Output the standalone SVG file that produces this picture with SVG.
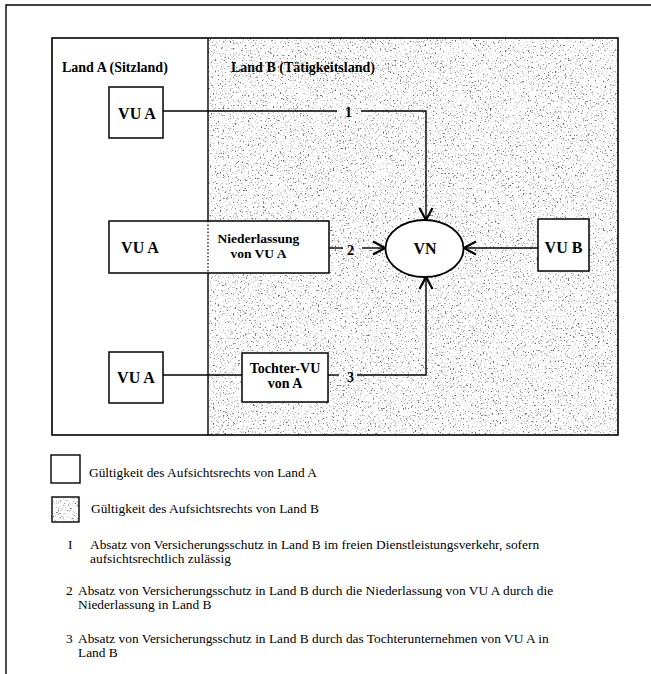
<svg xmlns="http://www.w3.org/2000/svg" width="651" height="674" viewBox="0 0 651 674">
<style>
.ln{fill:none;stroke:#000;stroke-width:1.4}
.box{fill:#fff;stroke:#000;stroke-width:1.5}
.bt{font-family:"Liberation Serif","Times New Roman",serif;font-weight:bold;fill:#000}
.t{font-family:"Liberation Serif","Times New Roman",serif;font-size:13.4px;fill:#000}
</style>
<defs>
<filter id="speckle" x="0" y="0" width="1" height="1">
<feTurbulence type="fractalNoise" baseFrequency="0.6" numOctaves="3" seed="7" result="n"/>
<feColorMatrix in="n" type="matrix" values="0 0 0 0 0.15  0 0 0 0 0.15  0 0 0 0 0.15  5 0 0 0 -2.85" result="d"/>
<feFlood flood-color="#fff" result="w"/>
<feComposite in="d" in2="w" operator="over"/>
</filter>
<marker id="arr" markerUnits="userSpaceOnUse" markerWidth="16" markerHeight="16" viewBox="0 0 16 16" refX="14" refY="8" orient="auto">
<path d="M2,1.5 L14,8 L2,14.5" fill="none" stroke="#000" stroke-width="2.2"/>
</marker>
</defs>
<rect width="651" height="674" fill="#fff"/>
<path d="M6,674 V5 H651" class="ln" stroke-width="1.5"/>

<g id="land-b">
<rect x="208" y="38" width="410" height="397" fill="#fff" filter="url(#speckle)"/>
</g>
<g id="frame">
<rect x="52" y="38" width="566" height="397" fill="none" stroke="#000" stroke-width="1.6"/>
<line x1="208" y1="38" x2="208" y2="221" stroke="#000" stroke-width="1.4"/>
<line x1="208" y1="273" x2="208" y2="435" stroke="#000" stroke-width="1.4"/>
<text class="bt" x="62" y="72" font-size="14">Land A (Sitzland)</text>
<text class="bt" x="231" y="72" font-size="14">Land B (Tätigkeitsland)</text>
</g>

<g id="connectors">
<polyline class="ln" points="163,111 337,111"/>
<polyline class="ln" points="361,111 426,111 426,220" marker-end="url(#arr)"/>
<text class="bt" x="345" y="117" font-size="14">1</text>
<polyline class="ln" points="329,248 343,248"/>
<polyline class="ln" points="362,248 385,248" marker-end="url(#arr)"/>
<text class="bt" x="347" y="255" font-size="14">2</text>
<polyline class="ln" points="163,375 242,375"/>
<polyline class="ln" points="328,375 339,375"/>
<polyline class="ln" points="357,375 426,375 426,277" marker-end="url(#arr)"/>
<text class="bt" x="347" y="382" font-size="14">3</text>
<polyline class="ln" points="538,248 464,248" marker-end="url(#arr)"/>
</g>

<g id="vua1">
<rect class="box" x="109" y="87" width="54" height="51"/>
<text class="bt" x="137" y="119" font-size="16" text-anchor="middle">VU A</text>
</g>

<g id="niederlassung">
<rect class="box" x="109" y="221" width="220" height="52"/>
<line x1="208" y1="221" x2="208" y2="273" stroke="#000" stroke-width="1.2" stroke-dasharray="1.5,2"/>
<text class="bt" x="140" y="253" font-size="16" text-anchor="middle">VU A</text>
<text class="bt" x="258.5" y="243" font-size="13.5" text-anchor="middle">Niederlassung</text>
<text class="bt" x="258.5" y="257.5" font-size="13.5" text-anchor="middle">von VU A</text>
</g>

<g id="vn">
<ellipse cx="424.5" cy="248.5" rx="39" ry="28.5" fill="#fff" stroke="#000" stroke-width="1.8"/>
<text class="bt" x="425" y="254" font-size="16" text-anchor="middle">VN</text>
</g>

<g id="vub">
<rect class="box" x="538" y="219" width="51" height="52"/>
<text class="bt" x="563.5" y="253" font-size="16" text-anchor="middle">VU B</text>
</g>

<g id="vua3">
<rect class="box" x="109" y="352" width="54" height="51"/>
<text class="bt" x="136" y="383" font-size="16" text-anchor="middle">VU A</text>
</g>

<g id="tochter">
<rect class="box" x="242" y="353" width="86" height="49"/>
<text class="bt" x="285" y="373" font-size="14" text-anchor="middle">Tochter-VU</text>
<text class="bt" x="285" y="388" font-size="14" text-anchor="middle">von A</text>
</g>

<g id="legend">
<rect x="51" y="455" width="29" height="28" fill="#fff" stroke="#000" stroke-width="1.4"/>
<text class="t" x="89" y="477">Gültigkeit des Aufsichtsrechts von Land A</text>
<rect x="52" y="497" width="27" height="25" fill="#fff" filter="url(#speckle)"/>
<rect x="52" y="497" width="27" height="25" fill="none" stroke="#000" stroke-width="1.4"/>
<text class="t" x="91" y="513">Gültigkeit des Aufsichtsrechts von Land B</text>
<text class="t" x="68" y="549">I</text>
<text class="t" x="90" y="549">Absatz von Versicherungsschutz in Land B im freien Dienstleistungsverkehr, sofern</text>
<text class="t" x="90" y="563">aufsichtsrechtlich zulässig</text>
<text class="t" x="66" y="595">2</text>
<text class="t" x="78" y="595">Absatz von Versicherungsschutz in Land B durch die Niederlassung von VU A durch die</text>
<text class="t" x="78" y="609">Niederlassung in Land B</text>
<text class="t" x="66" y="643">3</text>
<text class="t" x="78" y="643">Absatz von Versicherungsschutz in Land B durch das Tochterunternehmen von VU A in</text>
<text class="t" x="78" y="657">Land B</text>
</g>
</svg>
